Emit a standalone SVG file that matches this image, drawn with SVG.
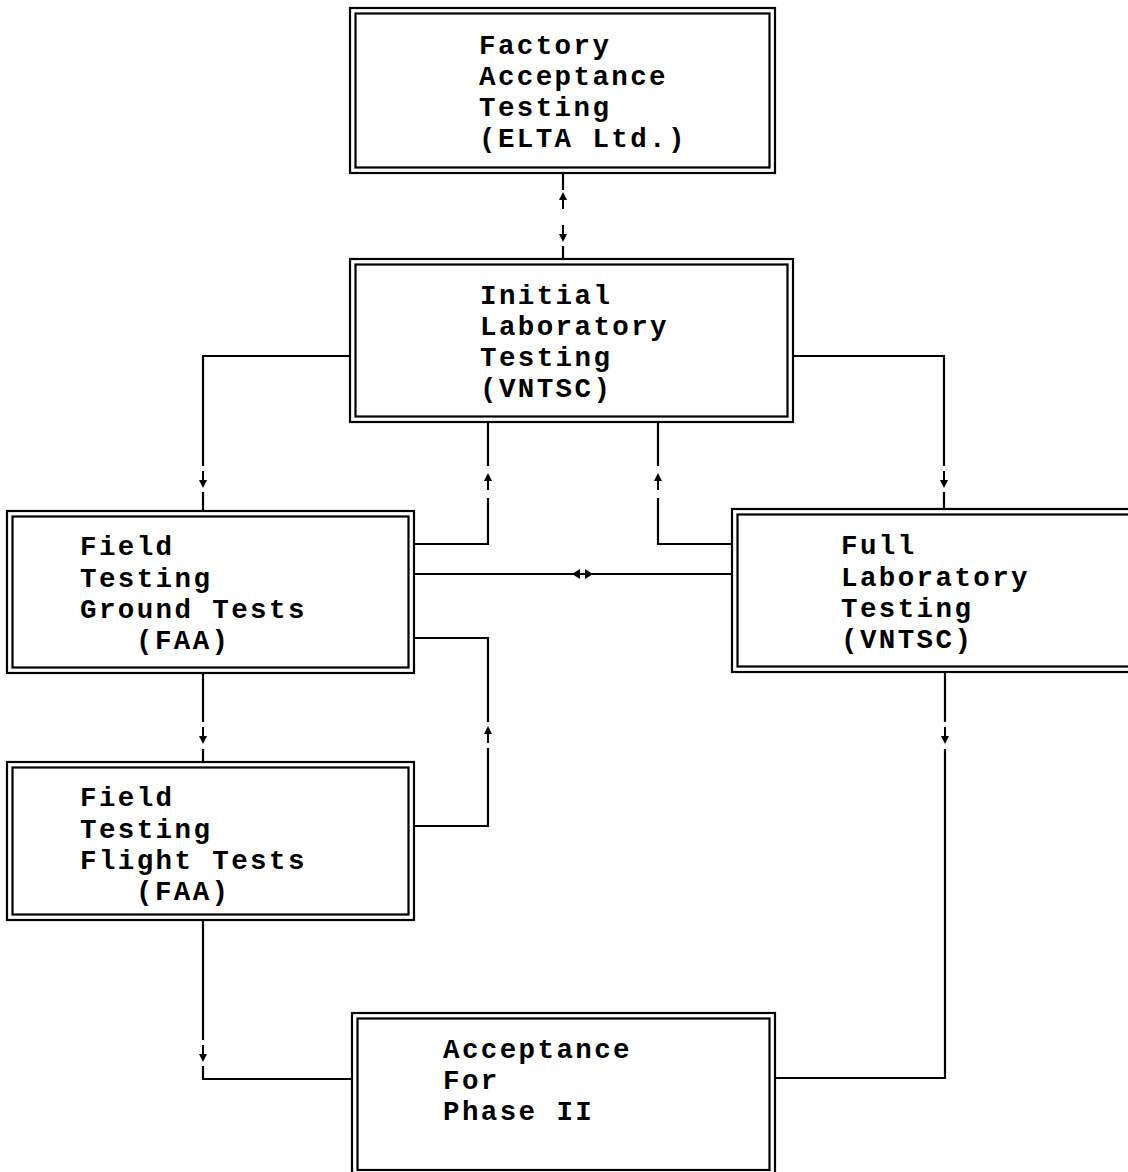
<svg xmlns="http://www.w3.org/2000/svg" width="1128" height="1172" viewBox="0 0 1128 1172">
<style>
.outer,.inner{fill:none;stroke:#000;stroke-width:2.2}
.lbl{font-family:"Liberation Mono","Courier New",monospace;font-size:27.5px;font-weight:bold;letter-spacing:2.4px;fill:#000}
.ln{fill:none;stroke:#000;stroke-width:2.2}
</style>
<defs>
<g id="up"><line x1="0" y1="-4" x2="0" y2="8" stroke="#000" stroke-width="2"/><polygon points="0,-9 -4,-1 4,-1" fill="#000"/></g>
<g id="down"><line x1="0" y1="-8" x2="0" y2="4" stroke="#000" stroke-width="2"/><polygon points="0,9 -4,1 4,1" fill="#000"/></g>
</defs>
<rect width="1128" height="1172" fill="#fff"/>

<g id="connectors">
  <path class="ln" d="M563,173 V190 M563,246 V259"/>
  <use href="#up" x="563" y="201"/>
  <use href="#down" x="563" y="233"/>
  <path class="ln" d="M350,356 H203 V466 M203,492 V511"/>
  <use href="#down" x="203" y="479"/>
  <path class="ln" d="M793,356 H944 V466 M944,492 V509"/>
  <use href="#down" x="944" y="479"/>
  <path class="ln" d="M414,544 H488 V498 M488,466 V422"/>
  <use href="#up" x="488" y="482"/>
  <path class="ln" d="M732,544 H658 V498 M658,466 V422"/>
  <use href="#up" x="658" y="482"/>
  <path class="ln" d="M414,574 H732"/>
  <polygon points="572,574 580,569 580,579" fill="#000"/>
  <polygon points="593,574 585,569 585,579" fill="#000"/>
  <path class="ln" d="M203,673 V722 M203,749 V762"/>
  <use href="#down" x="203" y="735"/>
  <path class="ln" d="M414,826 H488 V748 M488,722 V638 H414"/>
  <use href="#up" x="488" y="735"/>
  <path class="ln" d="M203,920 V1040 M203,1066 V1079 H352"/>
  <use href="#down" x="203" y="1053"/>
  <path class="ln" d="M945,672 V722 M945,749 V1078 H775"/>
  <use href="#down" x="945" y="735"/>
</g>

<g id="node-factory">
  <rect class="outer" x="350" y="8" width="425" height="165"/>
  <rect class="inner" x="355.5" y="13.5" width="414" height="154"/>
  <text class="lbl" x="479" y="54">Factory</text>
  <text class="lbl" x="479" y="85">Acceptance</text>
  <text class="lbl" x="479" y="116">Testing</text>
  <text class="lbl" x="479" y="147">(ELTA Ltd.)</text>
</g>

<g id="node-initial">
  <rect class="outer" x="350" y="259" width="443" height="163"/>
  <rect class="inner" x="355.5" y="264.5" width="432" height="152"/>
  <text class="lbl" x="480" y="304">Initial</text>
  <text class="lbl" x="480" y="335">Laboratory</text>
  <text class="lbl" x="480" y="366">Testing</text>
  <text class="lbl" x="480" y="397">(VNTSC)</text>
</g>

<g id="node-field-ground">
  <rect class="outer" x="7" y="511" width="407" height="162"/>
  <rect class="inner" x="12.5" y="516.5" width="396" height="151"/>
  <text class="lbl" x="80" y="555">Field</text>
  <text class="lbl" x="80" y="587">Testing</text>
  <text class="lbl" x="80" y="618">Ground Tests</text>
  <text class="lbl" x="136" y="649">(FAA)</text>
</g>

<g id="node-full-lab">
  <rect class="outer" x="732" y="509" width="410" height="163"/>
  <rect class="inner" x="737.5" y="514.5" width="400" height="152"/>
  <text class="lbl" x="841" y="554">Full</text>
  <text class="lbl" x="841" y="586">Laboratory</text>
  <text class="lbl" x="841" y="617">Testing</text>
  <text class="lbl" x="841" y="648">(VNTSC)</text>
</g>

<g id="node-field-flight">
  <rect class="outer" x="7" y="762" width="407" height="158"/>
  <rect class="inner" x="12.5" y="767.5" width="396" height="147"/>
  <text class="lbl" x="80" y="806">Field</text>
  <text class="lbl" x="80" y="838">Testing</text>
  <text class="lbl" x="80" y="869">Flight Tests</text>
  <text class="lbl" x="136" y="900">(FAA)</text>
</g>

<g id="node-acceptance">
  <rect class="outer" x="352" y="1013" width="423" height="165"/>
  <rect class="inner" x="357.5" y="1018.5" width="412" height="151.5"/>
  <text class="lbl" x="443" y="1058">Acceptance</text>
  <text class="lbl" x="443" y="1089">For</text>
  <text class="lbl" x="443" y="1120">Phase II</text>
</g>
</svg>
